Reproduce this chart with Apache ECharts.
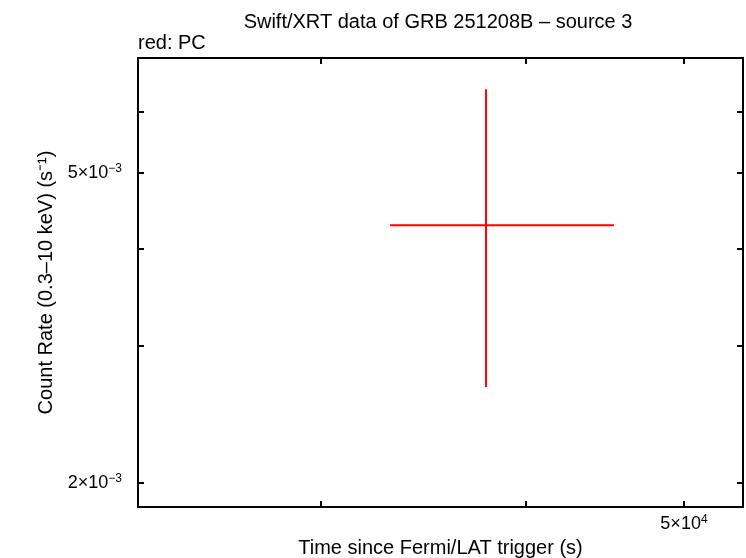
<!DOCTYPE html>
<html>
<head>
<meta charset="utf-8">
<script src="https://cdn.jsdelivr.net/npm/echarts@6/dist/echarts.min.js"></script>
<style>html,body{margin:0;padding:0;background:#fff}#c{width:746px;height:558px}</style>
</head>
<body>
<div id="c"></div>
<script>
// Data (PC mode): time, time lower, time upper, rate, rate lower, rate upper
const times = [37850];
const timeLo = [33070];
const timeHi = [45310];
const rates = [0.004287];
const rateLo = [0.002656];
const rateHi = [0.00641];

const xTickValues = [30000, 40000, 50000];
const xLabelValues = [50000];
const yTickValues = [0.002, 0.003, 0.004, 0.005, 0.006];
const yLabelValues = [0.002, 0.005];
const xRange = [23196, 54330];
const yRange = [0.001863, 0.00703];

function sci(v) {
  const e = Math.floor(Math.log10(v) + 1e-9);
  const m = Math.round(v / Math.pow(10, e));
  const sup = String(e).replace('-', '\u2212');
  return '{m|' + m + '\u00d710}{s|' + sup + '}';
}

const rich = {
  m: {fontFamily: 'Liberation Sans', fontSize: 18, color: '#000'},
  s: {fontFamily: 'Liberation Sans', fontSize: 12, color: '#000', verticalAlign: 'top', padding: [0,0,9,0]}
};

const chart = echarts.init(document.getElementById('c'), null, {renderer: 'canvas'});

const baseX = {
  type: 'log', min: xRange[0], max: xRange[1], logBase: 10,
  axisLine: {show: true, onZero: false, lineStyle: {color: '#000', width: 2}},
  axisTick: {show: true, inside: true, length: 6, lineStyle: {color: '#000', width: 2}, customValues: xTickValues},
  splitLine: {show: false}, minorTick: {show: false}
};
const baseY = {
  type: 'log', min: yRange[0], max: yRange[1], logBase: 10,
  axisLine: {show: true, onZero: false, lineStyle: {color: '#000', width: 2}},
  axisTick: {show: true, inside: true, length: 6, lineStyle: {color: '#000', width: 2}, customValues: yTickValues},
  splitLine: {show: false}, minorTick: {show: false}
};

const data = times.map((t, i) => [t, rates[i], timeLo[i], timeHi[i], rateLo[i], rateHi[i]]);

chart.setOption({
  animation: false,
  backgroundColor: '#fff',
  title: {
    text: 'Swift/XRT data of GRB 251208B \u2013 source 3',
    left: 433, top: 7, textAlign: 'center',
    textStyle: {fontFamily: 'Liberation Sans', fontSize: 20, fontWeight: 'normal', color: '#000'}
  },
  graphic: [{
    type: 'text', left: 138, top: 33,
    style: {text: 'red: PC', fontFamily: 'Liberation Sans', fontSize: 20, fill: '#000'}
  }],
  grid: {left: 138, right: 3, top: 58, bottom: 51, containLabel: false, outerBoundsMode: 'none'},
  xAxis: [
    Object.assign({}, baseX, {
      position: 'bottom',
      name: 'Time since Fermi/LAT trigger (s)', nameLocation: 'middle', nameGap: 30,
      nameTextStyle: {fontFamily: 'Liberation Sans', fontSize: 20, color: '#000'},
      axisLabel: {show: true, margin: 7, customValues: xLabelValues, formatter: v => sci(v), rich: rich}
    }),
    Object.assign({}, baseX, {position: 'top', axisLabel: {show: false}})
  ],
  yAxis: [
    Object.assign({}, baseY, {
      position: 'left',
      name: 'Count Rate (0.3\u201310 keV) (s\u207b\u00b9)', nameLocation: 'middle', nameGap: 80,
      nameTextStyle: {fontFamily: 'Liberation Sans', fontSize: 20, color: '#000'},
      axisLabel: {show: true, margin: 16, customValues: yLabelValues, formatter: v => sci(v), rich: rich}
    }),
    Object.assign({}, baseY, {position: 'right', axisLabel: {show: false}})
  ],
  series: [{
    type: 'custom',
    xAxisIndex: 0, yAxisIndex: 0,
    data: data,
    renderItem: function (params, api) {
      const c = api.coord([api.value(0), api.value(1)]);
      const l = api.coord([api.value(2), api.value(1)]);
      const r = api.coord([api.value(3), api.value(1)]);
      const b = api.coord([api.value(0), api.value(4)]);
      const t = api.coord([api.value(0), api.value(5)]);
      const st = {stroke: '#ff0000', lineWidth: 2};
      return {type: 'group', children: [
        {type: 'line', shape: {x1: l[0], y1: l[1], x2: r[0], y2: r[1]}, style: st},
        {type: 'line', shape: {x1: c[0], y1: b[1], x2: c[0], y2: t[1]}, style: st}
      ]};
    }
  }]
});
</script>
</body>
</html>
